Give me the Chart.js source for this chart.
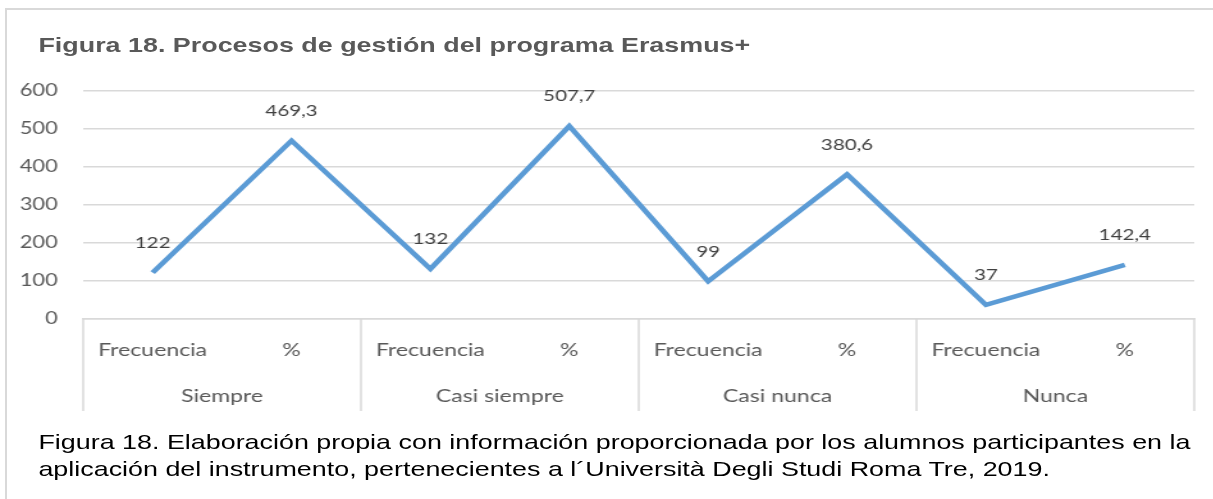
<!DOCTYPE html>
<html>
<head>
<meta charset="utf-8">
<script src="https://cdn.jsdelivr.net/npm/chart.js@4.4.1/dist/chart.umd.min.js"></script>
<style>
  body { margin: 0; background: #fff; }
  #wrap { position: relative; width: 1213px; height: 499px; overflow: hidden; }
  #frame { position: absolute; left: 5px; top: 8px; right: -10px; bottom: -10px; border-left: 2px solid #d9d9d9; border-top: 2px solid #d9d9d9; }
  /* the reference picture is stretched sideways, so the whole figure is too */
  #stage { position: absolute; left: 0; top: 0; width: 948px; height: 499px; transform: scaleX(1.28); transform-origin: 0 0; }
  #title { position: absolute; left: 30px; top: 33px; font: bold 21px "Liberation Sans", Arial, sans-serif; color: #595959; white-space: nowrap; }
  #caption { position: absolute; left: 30px; top: 428px; font: 21px/27px "Liberation Sans", Arial, sans-serif; color: #000; white-space: nowrap; }
  canvas { position: absolute; left: 0; top: 0; }
</style>
</head>
<body>
<div id="wrap">
  <div id="frame"></div>
  <div id="stage">
    <div id="title">Figura 18. Procesos de gestión del programa Erasmus+</div>
    <canvas id="chart" width="948" height="411"></canvas>
    <div id="caption">Figura 18. Elaboración propia con información proporcionada por los alumnos participantes en la<br>aplicación del instrumento, pertenecientes a l´Università Degli Studi Roma Tre, 2019.</div>
  </div>
</div>
<script>
const groups = ['Siempre', 'Casi siempre', 'Casi nunca', 'Nunca'];
const subLabels = ['Frecuencia', '%', 'Frecuencia', '%', 'Frecuencia', '%', 'Frecuencia', '%'];
const values = [122, 469.3, 132, 507.7, 99, 380.6, 37, 142.4];
const yTicks = [0, 100, 200, 300, 400, 500, 600];

const gridColor = '#d9d9d9';
const textColor = '#595959';
const tickFont = { family: 'Lato, "Open Sans", sans-serif', size: 18 };

// value labels above each point
const valueLabels = {
  id: 'valueLabels',
  afterDatasetsDraw(chart) {
    const ctx = chart.ctx;
    const meta = chart.getDatasetMeta(0);
    ctx.save();
    ctx.font = '16px Lato, "Open Sans", sans-serif';
    ctx.fillStyle = '#404040';
    ctx.textAlign = 'center';
    ctx.textBaseline = 'middle';
    meta.data.forEach((pt, i) => {
      ctx.fillText(String(values[i]).replace('.', ','), pt.x, pt.y - 30);
    });
    ctx.restore();
  }
};

// the category table under the plot
const tableLines = {
  id: 'tableLines',
  afterDraw(chart) {
    const ctx = chart.ctx;
    const x = chart.scales.x;
    const x2 = chart.scales.x2;
    const top = chart.chartArea.bottom;
    const bottom = x2.bottom;
    const xs = [chart.chartArea.left];
    for (let k = 1; k < groups.length; k++) {
      xs.push((x.getPixelForValue(2 * k - 1) + x.getPixelForValue(2 * k)) / 2);
    }
    xs.push(chart.chartArea.right);
    ctx.save();
    ctx.strokeStyle = gridColor;
    ctx.lineWidth = 1.5;
    ctx.beginPath();
    xs.forEach(px => {
      ctx.moveTo(px, top);
      ctx.lineTo(px, bottom);
    });
    ctx.stroke();
    ctx.restore();
  }
};

new Chart(document.getElementById('chart'), {
  type: 'line',
  data: {
    labels: subLabels,
    datasets: [{
      data: values,
      borderColor: '#5B9BD5',
      borderWidth: 4.5,
      pointRadius: 0,
      tension: 0,
      fill: false
    }]
  },
  options: {
    responsive: false,
    animation: false,
    layout: { padding: { top: 91, right: 15, left: 0, bottom: 0 } },
    plugins: { legend: { display: false }, tooltip: { enabled: false } },
    scales: {
      y: {
        min: 0, max: 600,
        afterFit: s => { s.width = 65; },
        afterBuildTicks: s => { s.ticks = yTicks.map(v => ({ value: v })); },
        grid: { color: gridColor, lineWidth: 1.5, drawTicks: false },
        border: { display: false },
        ticks: { color: textColor, font: { family: tickFont.family, size: 17 }, padding: 20 }
      },
      x: {
        offset: true,
        afterFit: s => { s.height = 54; },
        grid: { display: false, drawTicks: false },
        border: { display: true, color: gridColor, width: 1.5 },
        ticks: { color: textColor, font: tickFont, padding: 20, maxRotation: 0, autoSkip: false }
      },
      x2: {
        type: 'category',
        labels: groups,
        position: 'bottom',
        offset: true,
        afterFit: s => { s.height = 38; },
        grid: { display: false, drawTicks: false },
        border: { display: false },
        ticks: { color: textColor, font: tickFont, padding: 12, maxRotation: 0, autoSkip: false }
      }
    }
  },
  plugins: [valueLabels, tableLines]
});
</script>
</body>
</html>
